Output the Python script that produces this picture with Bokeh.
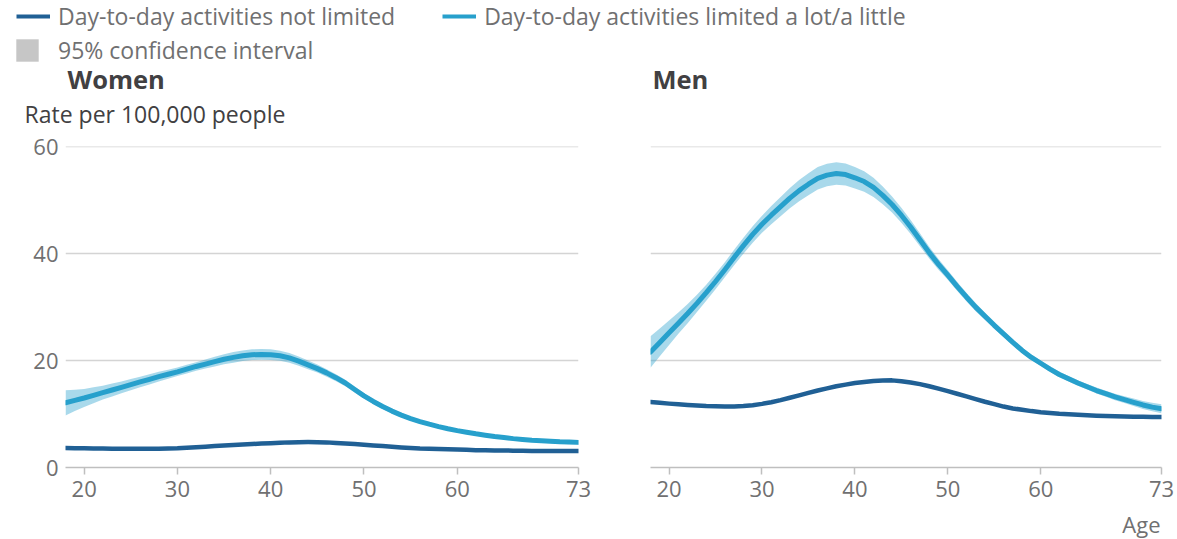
from bokeh.plotting import figure
from bokeh.models import Legend, LegendItem, Label, FixedTicker, Range1d
from bokeh.layouts import column, row
from bokeh.embed import file_html
from bokeh.resources import INLINE

# ---------------- data ----------------
ages = [18, 19, 20, 21, 22, 23, 24, 25, 26, 27, 28, 29, 30, 31, 32, 33, 34, 35, 36, 37,
        38, 39, 40, 41, 42, 43, 44, 45, 46, 47, 48, 49, 50, 51, 52, 53, 54, 55, 56, 57,
        58, 59, 60, 61, 62, 63, 64, 65, 66, 67, 68, 69, 70, 71, 72, 73]

women_limited = [12.1, 12.55, 13.0, 13.5, 14.0, 14.5, 15.0, 15.5, 16.0, 16.5, 17.0, 17.45,
                 17.9, 18.4, 18.9, 19.35, 19.8, 20.25, 20.6, 20.9, 21.1, 21.15, 21.1, 20.9,
                 20.5, 19.9, 19.2, 18.5, 17.7, 16.8, 15.8, 14.6, 13.4, 12.35, 11.4, 10.55,
                 9.8, 9.15, 8.6, 8.1, 7.65, 7.25, 6.9, 6.6, 6.3, 6.05, 5.8, 5.6, 5.4, 5.25,
                 5.1, 5.0, 4.9, 4.8, 4.75, 4.7]
women_limited_ci = [2.35, 2.0, 1.7, 1.5, 1.3, 1.2, 1.1, 1.05, 1.0, 0.95, 0.9, 0.85, 0.8,
                    0.8, 0.8, 0.85, 0.9, 0.95, 1.0, 1.0, 1.0, 1.0, 1.0, 0.95, 0.9, 0.85,
                    0.8, 0.75, 0.7, 0.65, 0.6, 0.55, 0.5, 0.48, 0.45, 0.42, 0.4, 0.38,
                    0.35, 0.33, 0.33, 0.33, 0.33, 0.33, 0.33, 0.33, 0.33, 0.33, 0.33, 0.33,
                    0.33, 0.35, 0.36, 0.38, 0.4, 0.42]
women_not_limited = [3.65, 3.62, 3.6, 3.57, 3.55, 3.52, 3.5, 3.5, 3.5, 3.5, 3.52, 3.55,
                     3.6, 3.7, 3.8, 3.9, 4.0, 4.1, 4.2, 4.3, 4.4, 4.48, 4.55, 4.63, 4.7,
                     4.73, 4.75, 4.74, 4.7, 4.6, 4.5, 4.38, 4.25, 4.12, 4.0, 3.87, 3.75,
                     3.65, 3.55, 3.5, 3.45, 3.4, 3.35, 3.3, 3.25, 3.22, 3.2, 3.17, 3.15,
                     3.12, 3.1, 3.1, 3.1, 3.1, 3.1, 3.1]

men_limited = [21.6, 23.4, 25.2, 27.0, 28.8, 30.7, 32.7, 34.8, 37.0, 39.3, 41.5, 43.6,
               45.5, 47.2, 48.8, 50.4, 51.8, 53.0, 54.1, 54.7, 55.0, 54.8, 54.2, 53.5,
               52.4, 50.9, 49.2, 47.2, 45.0, 42.6, 40.2, 38.0, 36.0, 33.9, 31.9, 30.0,
               28.3, 26.6, 25.0, 23.4, 21.9, 20.6, 19.5, 18.4, 17.4, 16.6, 15.8, 15.1,
               14.4, 13.8, 13.2, 12.7, 12.2, 11.7, 11.3, 11.0]
men_limited_ci = [2.95, 2.6, 2.3, 2.0, 1.8, 1.6, 1.5, 1.45, 1.4, 1.45, 1.5, 1.55, 1.6,
                  1.7, 1.8, 1.9, 2.0, 2.05, 2.1, 2.1, 2.1, 2.05, 2.0, 1.9, 1.8, 1.65, 1.5,
                  1.4, 1.3, 1.2, 1.1, 1.0, 0.9, 0.85, 0.8, 0.75, 0.7, 0.65, 0.6, 0.55,
                  0.55, 0.5, 0.5, 0.5, 0.5, 0.5, 0.5, 0.5, 0.55, 0.55, 0.6, 0.65, 0.7,
                  0.75, 0.8, 0.85]
men_not_limited = [12.25, 12.1, 11.95, 11.82, 11.7, 11.6, 11.5, 11.45, 11.4, 11.42, 11.5,
                   11.65, 11.9, 12.2, 12.6, 13.05, 13.5, 13.95, 14.4, 14.8, 15.2, 15.5,
                   15.8, 16.0, 16.2, 16.28, 16.3, 16.15, 15.9, 15.6, 15.2, 14.75, 14.3,
                   13.8, 13.3, 12.8, 12.3, 11.85, 11.4, 11.05, 10.8, 10.55, 10.35, 10.2,
                   10.05, 9.95, 9.85, 9.77, 9.7, 9.65, 9.6, 9.55, 9.5, 9.48, 9.45, 9.45]

x_ticks = [20, 30, 40, 50, 60, 73]
y_ticks = [0, 20, 40, 60]
series_names = ["Day-to-day activities not limited",
                "Day-to-day activities limited a lot/a little",
                "95% confidence interval"]
panel_titles = ["Women", "Men"]
y_title = "Rate per 100,000 people"
x_title = "Age"

# ---------------- styles ----------------
DARK = "#206095"
LIGHT = "#27a0cc"
BAND = "#27a0cc"
GREY_SWATCH = "#c6c6c6"
TEXT_DARK = "#414042"
TEXT_GREY = "#707071"
GRID = "#d4d4d4"
AXIS = "#bfbfbf"
FONT = "Open Sans"
TICK_FS = "22px"
TEXT_FS = "23px"
TITLE_FS = "25.5px"
NAN = float("nan")

TOP_H = 130
BOTTOM_H = 33
PANEL_H = 539 - TOP_H - BOTTOM_H


def strip(height):
    s = figure(width=1177, height=height, toolbar_location=None, output_backend="svg",
               x_range=Range1d(0, 1), y_range=Range1d(0, 1), min_border=0)
    s.axis.visible = False
    s.grid.visible = False
    s.outline_line_color = None
    return s


def panel(width, border_left, border_right, lim, ci, notlim, show_y):
    lo = [v - h for v, h in zip(lim, ci)]
    hi = [v + h for v, h in zip(lim, ci)]
    p = figure(width=width, height=PANEL_H, toolbar_location=None, output_backend="svg",
               x_range=Range1d(18, 73), y_range=Range1d(0, 60.05),
               min_border_left=border_left, min_border_right=border_right,
               min_border_top=16, min_border_bottom=PANEL_H - 16 - 321)
    p.outline_line_color = None
    p.xgrid.visible = False
    p.ygrid.ticker = FixedTicker(ticks=y_ticks)
    p.ygrid.grid_line_color = GRID
    p.ygrid.grid_line_width = 1.5

    xa = p.xaxis[0]
    xa.ticker = FixedTicker(ticks=x_ticks)
    xa.axis_line_color = AXIS
    xa.axis_line_width = 1.5
    xa.major_tick_line_color = AXIS
    xa.major_tick_line_width = 1.5
    xa.major_tick_out = 7
    xa.major_tick_in = 0
    xa.minor_tick_line_color = None
    xa.major_label_standoff = 6
    xa.major_label_text_font = FONT
    xa.major_label_text_font_size = TICK_FS
    xa.major_label_text_color = TEXT_GREY

    ya = p.yaxis[0]
    if show_y:
        ya.ticker = FixedTicker(ticks=y_ticks)
        ya.axis_line_color = None
        ya.major_tick_line_color = None
        ya.major_tick_out = 0
        ya.major_tick_in = 0
        ya.minor_tick_line_color = None
        ya.minor_tick_out = 0
        ya.major_label_standoff = 7
        ya.major_label_text_font = FONT
        ya.major_label_text_font_size = TICK_FS
        ya.major_label_text_color = TEXT_GREY
    else:
        ya.visible = False

    p.varea(x=ages, y1=lo, y2=hi, fill_color=BAND, fill_alpha=0.4)
    p.line(ages, lim, line_color=LIGHT, line_width=5, line_cap="round", line_join="round")
    p.line(ages, notlim, line_color=DARK, line_width=4.5, line_cap="round", line_join="round")
    return p


p_w = panel(608, 65, 30, women_limited, women_limited_ci, women_not_limited, True)
p_m = panel(569, 42, 16, men_limited, men_limited_ci, men_not_limited, False)

# ---------------- top strip: legend, panel titles, y-axis title ----------------
top = strip(TOP_H)
r_dark = top.line(x=[NAN], y=[NAN], line_color=DARK, line_width=4)
r_light = top.line(x=[NAN], y=[NAN], line_color=LIGHT, line_width=4)
r_band = top.varea(x=[NAN], y1=[NAN], y2=[NAN], fill_color=GREY_SWATCH, fill_alpha=1.0)

common = dict(border_line_color=None, background_fill_alpha=0, padding=0, margin=0,
              label_text_font=FONT, label_text_font_size=TEXT_FS,
              label_text_color=TEXT_GREY)
leg1 = Legend(items=[LegendItem(label=series_names[0], renderers=[r_dark]),
                     LegendItem(label=series_names[1], renderers=[r_light])],
              orientation="horizontal", location=(16, TOP_H - 32), glyph_width=34,
              glyph_height=20, label_height=20, label_standoff=8, spacing=47, **common)
leg2 = Legend(items=[LegendItem(label=series_names[2], renderers=[r_band])],
              orientation="horizontal", location=(13, TOP_H - 66), glyph_width=28,
              glyph_height=28, label_height=28, label_standoff=17, **common)
top.add_layout(leg1)
top.add_layout(leg2)

top.add_layout(Label(x=67, y=TOP_H - 78, x_units="screen", y_units="screen",
                     text=panel_titles[0], text_font=FONT, text_font_size=TITLE_FS,
                     text_font_style="bold", text_color=TEXT_DARK, text_baseline="middle"))
top.add_layout(Label(x=652, y=TOP_H - 78, x_units="screen", y_units="screen",
                     text=panel_titles[1], text_font=FONT, text_font_size=TITLE_FS,
                     text_font_style="bold", text_color=TEXT_DARK, text_baseline="middle"))
top.add_layout(Label(x=24, y=TOP_H - 113, x_units="screen", y_units="screen",
                     text=y_title, text_font=FONT, text_font_size=TEXT_FS,
                     text_color=TEXT_DARK, text_baseline="middle"))

# ---------------- bottom strip: x-axis title ----------------
bottom = strip(BOTTOM_H)
bottom.add_layout(Label(x=1160, y=16, x_units="screen", y_units="screen", text=x_title,
                        text_font=FONT, text_font_size=TICK_FS, text_color=TEXT_GREY,
                        text_align="right", text_baseline="middle"))

layout = column(top, row(p_w, p_m, spacing=0), bottom, spacing=0)

open("out.html", "w").write(file_html(layout, INLINE))
